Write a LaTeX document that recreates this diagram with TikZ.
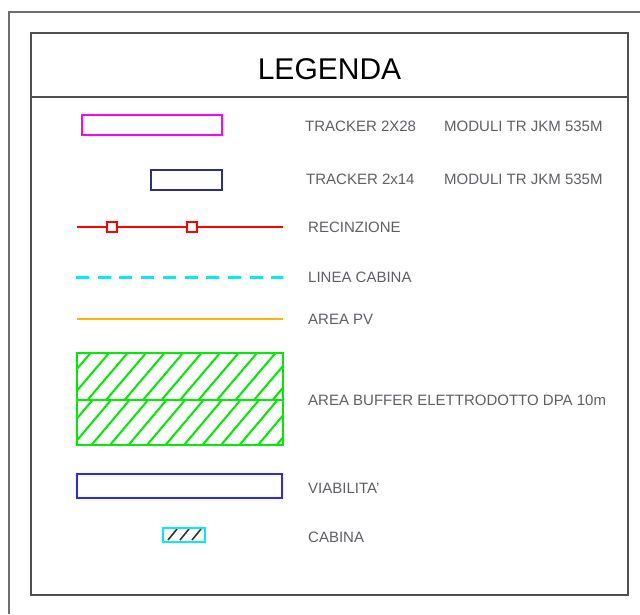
\documentclass[tikz,border=0pt]{standalone}
\usepackage{fontspec}
\setmainfont{Liberation Sans}
\usepackage{xcolor}
\usetikzlibrary{positioning}

\definecolor{frmgray}{RGB}{110,110,110}
\definecolor{boxgray}{RGB}{80,80,80}
\definecolor{txtgray}{RGB}{95,95,100}
\definecolor{trkmag}{RGB}{255,0,255}
\definecolor{trknavy}{RGB}{45,45,140}
\definecolor{fencered}{RGB}{255,0,0}
\definecolor{cabcyan}{RGB}{0,235,245}
\definecolor{pvorange}{RGB}{255,180,0}
\definecolor{bufgreen}{RGB}{0,235,0}
\definecolor{roadblue}{RGB}{40,40,255}

\begin{document}
\begin{tikzpicture}[x=1pt, y=-1pt,
    lbl/.style={anchor=west, inner sep=0pt, text=txtgray, font=\fontsize{15}{18}\selectfont},
    ttl/.style={inner sep=0pt, font=\fontsize{30}{36}\selectfont},
    post/.style={draw=fencered, fill=white, line width=1.3pt, minimum size=10pt, inner sep=0pt}]
  \useasboundingbox (0,0) rectangle (640,614);
  % frames
  \draw[frmgray, line width=1.3pt] (9,614) -- (9,12) -- (640,12);
  \draw[boxgray, line width=2pt] (31,33) rectangle (628,595);
  \draw[boxgray, line width=1.5pt] (31,97) -- (628,97);
  \node[ttl] (title) at (329.5,69) {LEGENDA};

  % trackers
  \draw[trkmag, line width=2pt] (82,115) rectangle (222,135);
  \node[lbl] (trk28) at (305,126) {TRACKER 2X28};
  \node[lbl] (mod28) at (444,126) {MODULI TR JKM 535M};
  \draw[trknavy, line width=2pt] (151,170) rectangle (222,190);
  \node[lbl] (trk14) at (306,179) {TRACKER 2x14};
  \node[lbl] (mod14) at (444,179) {MODULI TR JKM 535M};

  % fence
  \draw[fencered, line width=2pt] (77,227) -- (283,227);
  \node[post] (pa) at (112,227) {};
  \node[post] (pb) at (192,227) {};
  \node[lbl] (fence) at (308,227) {RECINZIONE};

  % lines
  \draw[cabcyan, line width=3pt, dash pattern=on 13pt off 8.7pt] (76,277) -- (283,277);
  \node[lbl] (lcab) at (308,277) {LINEA CABINA};
  \draw[pvorange, line width=2pt] (77,319) -- (283,319);
  \node[lbl] (pv) at (308,319) {AREA PV};

  % buffer area
  \begin{scope}
    \clip (77,353) rectangle (283,400);
    \foreach \x in {-42,-23.5,...,283}
      \draw[bufgreen, line width=2pt] (\x,400) -- ++(40,-47);
  \end{scope}
  \begin{scope}
    \clip (77,400) rectangle (283,445);
    \foreach \x in {-38,-19.5,...,283}
      \draw[bufgreen, line width=2pt] (\x,445) -- ++(38,-45);
  \end{scope}
  \draw[bufgreen, line width=2.2pt] (77,353) rectangle (283,445);
  \draw[bufgreen, line width=2pt] (77,400) -- (283,400);
  \node[lbl] (buffer) at (308,400) {AREA BUFFER ELETTRODOTTO DPA 10m};

  % road
  \draw[roadblue, line width=2.5pt] (77,474) rectangle (282,498);
  \node[lbl] (road) at (308,488) {VIABILITA'};

  % cabin
  \begin{scope}
    \clip (163,528) rectangle (205,542);
    \foreach \x in {168,180,192}
      \draw[black!80, line width=1.6pt] (\x,540) -- ++(9,-11);
  \end{scope}
  \draw[cabcyan, line width=2pt] (163,528) rectangle (205,542);
  \node[lbl] (cab) at (308,537) {CABINA};
\end{tikzpicture}
\end{document}
